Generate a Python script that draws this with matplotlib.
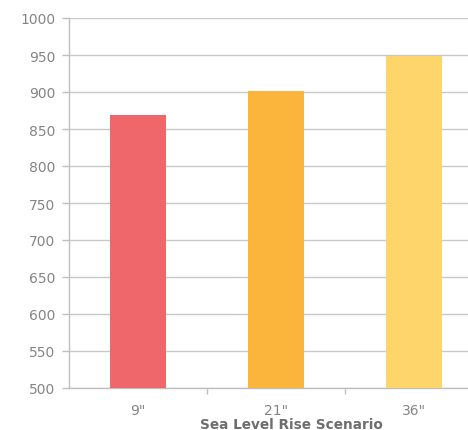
import matplotlib
matplotlib.use("Agg")
import matplotlib.pyplot as plt
from matplotlib.ticker import FixedLocator, NullFormatter

categories = ['9"', '21"', '36"']
values = [869, 902, 949]
colors = ["#F0676B", "#FBB43C", "#FDD56A"]
yticks = [500, 550, 600, 650, 700, 750, 800, 850, 900, 950, 1000]

plt.rcParams['font.family'] = ['DejaVu Sans']

fig = plt.figure(figsize=(4.68, 4.31), dpi=100)
ax = fig.add_axes([69/468, 1 - 389/431, 414/468, 370/431])

x = list(range(len(categories)))
ax.bar(x, values, width=0.4, color=colors, zorder=3)

ax.set_xlim(-0.5, len(categories) - 0.5)
ax.set_ylim(500, 1000)
ax.set_yticks(yticks)
ax.set_yticklabels([str(v) for v in yticks], color="#858585", fontsize=10)
ax.set_xticks(x)
ax.set_xticklabels(categories, color="#858585", fontsize=10)
ax.tick_params(axis='x', which='major', length=0, pad=11)
ax.xaxis.set_minor_locator(FixedLocator([0.5, 1.5]))
ax.xaxis.set_minor_formatter(NullFormatter())
ax.tick_params(axis='x', which='minor', length=4, color="#BFBFBF", width=1)
ax.tick_params(axis='y', length=5, color="#BFBFBF", width=1, pad=5)

ax.grid(axis='y', color="#C8C8C8", linewidth=1, zorder=0)
for s in ['top', 'right']:
    ax.spines[s].set_visible(False)
for s in ['left', 'bottom']:
    ax.spines[s].set_color("#BFBFBF")
    ax.spines[s].set_linewidth(1)

fig.text(291.5/468, 1 - 425/431, "Sea Level Rise Scenario", color="#6E6E6E",
         fontsize=9.8, fontweight='bold', ha='center', va='center')

fig.savefig("out.png", dpi=100)
